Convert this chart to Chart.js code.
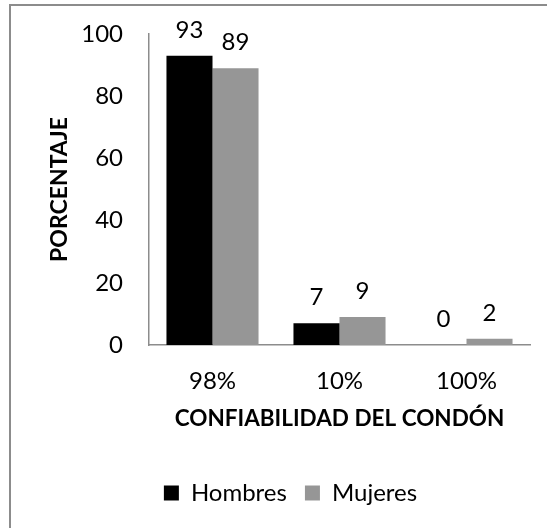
<!DOCTYPE html>
<html>
<head>
<meta charset="utf-8">
<script src="https://cdn.jsdelivr.net/npm/chart.js@4/dist/chart.umd.min.js"></script>
<style>
  html, body { margin: 0; padding: 0; background: #fff; }
  #wrap { width: 547px; height: 528px; position: relative; }
</style>
</head>
<body>
<div id="wrap"><canvas id="c" width="547" height="528"></canvas></div>
<script>
const categories = ["98%", "10%", "100%"];
const hombres = [93, 7, 0];
const mujeres = [89, 9, 2];
const yTicks = [0, 20, 40, 60, 80, 100];
const yTitle = "PORCENTAJE";
const xTitle = "CONFIABILIDAD DEL CONDÓN";

const FONT = "Lato";

const frame = {
  id: 'frame',
  beforeDraw(chart) {
    const ctx = chart.ctx;
    ctx.save();
    ctx.fillStyle = '#fff';
    ctx.fillRect(0, 0, chart.width, chart.height);
    ctx.strokeStyle = '#8c8c8c';
    ctx.lineWidth = 2;
    ctx.beginPath();
    ctx.moveTo(10, chart.height);
    ctx.lineTo(10, 5);
    ctx.lineTo(chart.width, 5);
    ctx.stroke();
    ctx.restore();
  }
};

const dataLabels = {
  id: 'dataLabels',
  afterDatasetsDraw(chart) {
    const ctx = chart.ctx;
    ctx.save();
    ctx.font = `24px ${FONT}`;
    ctx.fillStyle = '#000';
    ctx.textAlign = 'center';
    ctx.textBaseline = 'middle';
    chart.data.datasets.forEach((ds, i) => {
      const meta = chart.getDatasetMeta(i);
      meta.data.forEach((bar, j) => {
        ctx.fillText(String(ds.data[j]), bar.x, bar.y - 26);
      });
    });
    ctx.restore();
  }
};

new Chart(document.getElementById('c'), {
  type: 'bar',
  data: {
    labels: categories,
    datasets: [
      { label: 'Hombres', data: hombres, backgroundColor: '#000000', borderWidth: 0 },
      { label: 'Mujeres', data: mujeres, backgroundColor: '#969696', borderWidth: 0 }
    ]
  },
  options: {
    responsive: false,
    animation: false,
    devicePixelRatio: 1,
    layout: { padding: { left: 51, right: 17, top: 34, bottom: 13 } },
    datasets: { bar: { categoryPercentage: 0.725, barPercentage: 1.0 } },
    plugins: {
      legend: {
        position: 'bottom',
        labels: {
          font: { family: FONT, size: 24 },
          color: '#000',
          boxWidth: 15,
          boxHeight: 15,
          padding: 18
        }
      },
      tooltip: { enabled: false }
    },
    scales: {
      x: {
        grid: { display: false, drawTicks: true, tickLength: 10 },
        border: { display: true, color: '#8c8c8c', width: 1.5 },
        ticks: { font: { family: FONT, size: 24 }, color: '#000', padding: 12 },
        title: {
          display: true, text: xTitle, color: '#000',
          font: { family: FONT, size: 22.5, weight: 'bold' },
          padding: { top: 0, bottom: 30.5 }
        },
        afterFit(scale) { scale.height = 118; }
      },
      y: {
        min: 0, max: 100,
        afterBuildTicks(scale) { scale.ticks = yTicks.map(v => ({ value: v })); },
        grid: { display: false, drawTicks: true, tickLength: 10 },
        border: { display: true, color: '#8c8c8c', width: 1.5 },
        ticks: { font: { family: FONT, size: 24 }, color: '#000', padding: 16 },
        title: {
          display: true, text: yTitle, color: '#000',
          font: { family: FONT, size: 23, weight: 'bold' },
          padding: { top: -5, bottom: 0 }
        },
        afterFit(scale) { scale.width = 98; }
      }
    }
  },
  plugins: [frame, dataLabels]
});
</script>
</body>
</html>
